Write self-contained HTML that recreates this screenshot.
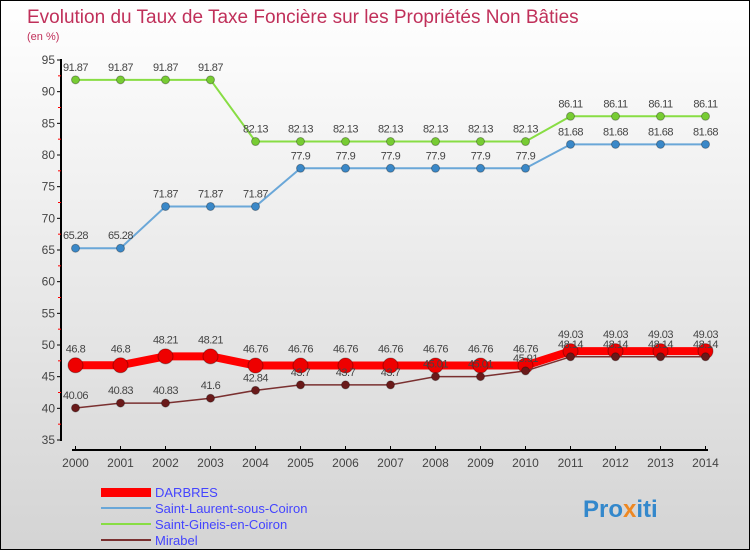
<!DOCTYPE html>
<html><head><meta charset="utf-8"><style>
html,body{margin:0;padding:0}
body{width:750px;height:550px;overflow:hidden;font-family:"Liberation Sans",sans-serif}
#wrap{position:absolute;left:0;top:0;width:748px;height:548px;border:1px solid #000;background:linear-gradient(#ffffff,#d4d4d4)}
</style></head><body>
<div id="wrap">
<svg id="chart" width="750" height="550" style="position:absolute;left:-1px;top:-1px">
<text x="27" y="23" font-size="19" fill="#c0305a">Evolution du Taux de Taxe Foncière sur les Propriétés Non Bâties</text>
<text x="27" y="40" font-size="11" fill="#c0305a">(en %)</text>
<g id="axes"></g><g id="series"></g>
<g>
<rect x="101" y="488" width="50" height="9" fill="#ff0000"/>
<text x="155" y="497" font-size="13" fill="#4444ff">DARBRES</text>
<line x1="101" y1="508" x2="151" y2="508" stroke="#6aa7d8" stroke-width="2"/>
<text x="155" y="513" font-size="13" fill="#4444ff">Saint-Laurent-sous-Coiron</text>
<line x1="101" y1="524" x2="151" y2="524" stroke="#88dd44" stroke-width="2"/>
<text x="155" y="529" font-size="13" fill="#4444ff">Saint-Gineis-en-Coiron</text>
<line x1="101" y1="540" x2="151" y2="540" stroke="#7a3030" stroke-width="2"/>
<text x="155" y="545" font-size="13" fill="#4444ff">Mirabel</text>
</g>
<text x="583" y="517" font-size="24" font-weight="bold" fill="#3388cc">Pro<tspan fill="#ee8822">x</tspan>iti</text>
</svg>
</div>
<script>
const years=[2000,2001,2002,2003,2004,2005,2006,2007,2008,2009,2010,2011,2012,2013,2014];
const darbres=[46.8,46.8,48.21,48.21,46.76,46.76,46.76,46.76,46.76,46.76,46.76,49.03,49.03,49.03,49.03];
const stLaurent=[65.28,65.28,71.87,71.87,71.87,77.9,77.9,77.9,77.9,77.9,77.9,81.68,81.68,81.68,81.68];
const stGineis=[91.87,91.87,91.87,91.87,82.13,82.13,82.13,82.13,82.13,82.13,82.13,86.11,86.11,86.11,86.11];
const mirabel=[40.06,40.83,40.83,41.6,42.84,43.7,43.7,43.7,45.01,45.01,45.91,48.14,48.14,48.14,48.14];
const yTicks=[35,40,45,50,55,60,65,70,75,80,85,90,95];
const NS='http://www.w3.org/2000/svg';
const X=i=>75.5+i*45;
const Y=v=>440-(v-35)*(380/60);
function mk(parent,tag,attrs){const e=document.createElementNS(NS,tag);for(const k in attrs)e.setAttribute(k,attrs[k]);parent.appendChild(e);return e;}
const ax=document.getElementById('axes');
let e=mk(ax,'line',{x1:61,y1:59,x2:61,y2:441,stroke:'#000','stroke-width':2});


e=mk(ax,'line',{x1:72,y1:450,x2:708,y2:450,stroke:'#000','stroke-width':2});


yTicks.forEach(v=>{
 mk(ax,'line',{x1:57,y1:Y(v),x2:61,y2:Y(v),stroke:'#000'});
 const t=mk(ax,'text',{x:55,y:Y(v)+4,'font-size':12,'text-anchor':'end',fill:'#444'});t.textContent=v;
 
 
 if(v<95){mk(ax,'line',{x1:58,y1:Y(v+2.5),x2:61,y2:Y(v+2.5),stroke:'#ff0000'});}
});
years.forEach((yr,i)=>{
 mk(ax,'line',{x1:X(i),y1:446,x2:X(i),y2:450,stroke:'#000'});
 const t=mk(ax,'text',{x:X(i),y:467,'font-size':12,'text-anchor':'middle',fill:'#444'});t.textContent=yr;
 
 
});
const sg=document.getElementById('series');
function series(vals,color,w,r,name,dotColor,off){
 const g=mk(sg,'g',{});
 
 
 mk(g,'polyline',{points:vals.map((v,i)=>X(i)+','+Y(v)).join(' '),fill:'none',stroke:color,'stroke-width':w,'stroke-linejoin':'round'});
 vals.forEach((v,i)=>{
  const c=mk(g,'circle',{cx:X(i),cy:Y(v),r:r,fill:dotColor,stroke:'rgba(0,0,0,0.3)'});
  
  
  const t=mk(g,'text',{x:X(i),y:Y(v)-off,'font-size':11,'text-anchor':'middle',fill:'#444','letter-spacing':'-0.5'});
  t.textContent=v;
  
  
 });
}
series(stGineis,'#88dd44',2,4,'series-saint-gineis','#77cc33',9);
series(stLaurent,'#6aa7d8',2,4,'series-saint-laurent','#3a88c8',9);
series(darbres,'#ff0000',8,7.5,'series-darbres','#ee0000',13);
series(mirabel,'#7a3030',1.5,4,'series-mirabel','#6a1a1a',9);
</script>
</body></html>
